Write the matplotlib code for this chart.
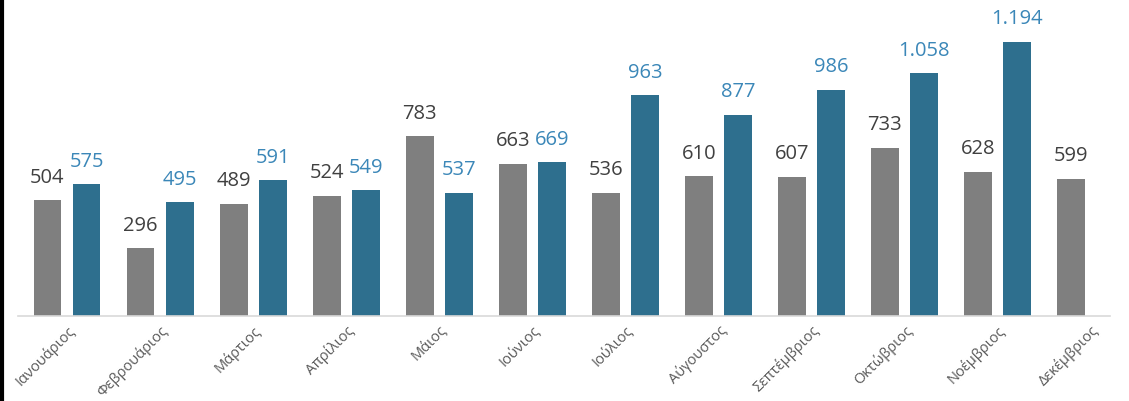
import matplotlib.pyplot as plt
import numpy as np

months = ['Ιανουάριος', 'Φεβρουάριος', 'Μάρτιος', 'Απρίλιος', 'Μάιος', 'Ιούνιος',
          'Ιούλιος', 'Αύγουστος', 'Σεπτέμβριος', 'Οκτώβριος', 'Νοέμβριος', 'Δεκέμβριος']
prev_year = [504, 296, 489, 524, 783, 663, 536, 610, 607, 733, 628, 599]
this_year = [575, 495, 591, 549, 537, 669, 963, 877, 986, 1058, 1194, np.nan]

GREY = '#7f7f7f'
BLUE = '#2e6f8e'
BLUE_TXT = '#3b87b8'
GREY_TXT = '#404040'

plt.rcParams['font.family'] = ['Open Sans', 'DejaVu Sans']


def fmt(v):
    return f"{int(v):,}".replace(",", ".")


fig = plt.figure(figsize=(11.29, 4.01), dpi=100)
ax = fig.add_axes([18 / 1129, 85 / 401, (1110 - 18) / 1129, 316 / 401])

x = np.arange(len(months))
w = 0.30
off = 0.21
ax.bar(x - off, prev_year, w, color=GREY)
ax.bar(x + off, this_year, w, color=BLUE)

for xi, v in zip(x, prev_year):
    ax.annotate(fmt(v), (xi - off, v), xytext=(0, 9), textcoords='offset points',
                ha='center', va='bottom', fontsize=14.5, color=GREY_TXT)
for xi, v in zip(x, this_year):
    if np.isnan(v):
        continue
    ax.annotate(fmt(v), (xi + off, v), xytext=(0, 9), textcoords='offset points',
                ha='center', va='bottom', fontsize=14.5, color=BLUE_TXT)

ax.set_xlim((18 - 67) / 93.05, (1110 - 67) / 93.05)
ax.set_ylim(0, 1194 * 316 / 274)
ax.set_xticks(x)
ax.set_xticklabels(months, rotation=45, ha='right', rotation_mode='anchor',
                   fontsize=10.5, color='#595959')
ax.tick_params(axis='x', length=0, pad=5)
ax.set_yticks([])
for s in ['top', 'right', 'left']:
    ax.spines[s].set_visible(False)
ax.spines['bottom'].set_color('#d9d9d9')
ax.spines['bottom'].set_linewidth(1.2)

# dark edge on the left side of the picture
fig.add_artist(plt.Line2D([0.0015, 0.0015], [0, 1], color='black', linewidth=3,
                          transform=fig.transFigure))

fig.savefig('out.png', dpi=100)
